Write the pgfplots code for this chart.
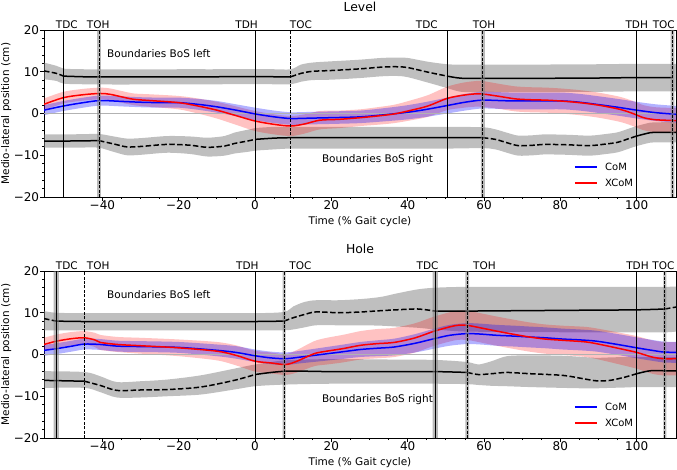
\documentclass[border=0pt]{standalone}
\usepackage{fontspec}
\setmainfont{DejaVu Sans}
\usepackage{pgfplots}
\usepackage{pgfplotstable}
\pgfplotsset{compat=1.18}
\usepgfplotslibrary{fillbetween}

% ---------------- Level ----------------
\pgfplotstableread{
x y lo hi
-55.3 10.2 8.2 12.2
-52.0 9.6 7.8 11.4
-50.2 8.95 7.15 10.75
-45 8.8 7.0 10.6
-40 8.75 6.95 10.55
-30 8.75 6.95 10.55
-20 8.8 7.0 10.6
-10 8.8 7.0 10.6
0 8.85 7.05 10.65
5 8.8 7.0 10.6
9.4 8.8 7.0 10.6
12 9.6 7.6 11.7
15 10.1 8.0 12.2
20 10.3 8.1 12.5
27.6 10.7 8.5 12.9
33 11.1 8.9 13.3
37 11.2 9.0 13.4
40 11.0 8.7 13.3
45.3 9.9 7.4 12.4
50.3 8.96 6.1 11.8
54 8.45 5.2 11.7
60 8.4 5.1 11.7
70 8.4 5.1 11.7
80 8.45 5.15 11.75
90 8.5 5.2 11.8
100 8.6 5.3 11.9
109.4 8.6 5.3 11.9
110.5 8.6 5.3 11.9
}\LevLeft
\pgfplotstableread{
x y lo hi
-55.3 -6.6 -8.2 -5.0
-50 -6.6 -8.2 -5.0
-45 -6.55 -8.15 -4.95
-40.9 -6.5 -8.2 -4.9
-37 -7.3 -9.2 -5.5
-33.6 -8.0 -10.0 -6.0
-30 -7.9 -9.9 -5.9
-23 -7.4 -9.4 -5.4
-17 -7.6 -9.7 -5.5
-12.5 -8.1 -10.3 -5.8
-8 -7.8 -10.1 -5.4
-5.5 -7.2 -9.6 -4.6
-2 -6.6 -9.2 -3.9
0 -6.2 -8.9 -3.5
5 -5.9 -8.6 -3.2
9.4 -5.8 -8.4 -3.2
20 -5.8 -8.4 -3.2
30 -5.8 -8.4 -3.2
40 -5.8 -8.4 -3.2
50.3 -5.8 -8.4 -3.2
59.7 -5.8 -8.3 -3.3
63 -6.2 -8.6 -3.8
66 -7.0 -9.4 -4.6
69 -7.7 -10.1 -5.3
73 -7.6 -10.0 -5.2
76 -7.4 -9.8 -5.0
82 -7.5 -9.9 -5.1
87.7 -7.7 -10.1 -5.3
92 -7.3 -9.7 -4.9
95 -6.9 -9.3 -4.5
98 -6.0 -8.4 -3.6
100 -5.4 -7.8 -3.0
103.5 -4.6 -7.0 -2.2
106 -4.5 -6.9 -2.1
110.5 -4.5 -6.9 -2.1
}\LevRight
\pgfplotstableread{
x y lo hi
-55.3 0.8 -0.4 2.0
-50.2 1.8 0.6 3.0
-45 2.6 1.4 3.8
-40.6 3.1 1.9 4.3
-35 2.9 1.7 4.1
-30 2.7 1.5 3.9
-25 2.6 1.4 3.8
-20 2.6 1.4 3.8
-15 2.2 0.9 3.5
-10 1.6 0.2 3.0
-5 0.8 -0.6 2.2
0 -0.1 -1.6 1.4
5 -0.8 -2.3 0.7
9.4 -1.2 -2.7 0.3
15 -1.1 -2.6 0.4
20 -1.0 -2.5 0.5
27.6 -0.8 -2.3 0.7
35 -0.2 -1.8 1.4
40 0.3 -1.4 2.0
45 1.0 -0.8 2.8
50.3 1.9 0.0 3.8
55 2.7 0.7 4.7
59.4 3.2 1.2 5.2
64 3.1 1.1 5.1
68 3.0 1.0 5.0
75 3.0 1.0 5.0
80.6 3.0 1.0 5.0
85 2.7 0.7 4.7
89.4 2.2 0.2 4.2
95 1.5 -0.5 3.5
100 0.8 -1.2 2.8
105 0.2 -1.8 2.2
110.5 -0.2 -2.2 1.8
}\LevCoM
\pgfplotstableread{
x y lo hi
-55.3 2.2 0.8 3.6
-50.2 3.8 2.4 5.2
-45 4.5 3.1 5.9
-40.6 4.8 3.4 6.2
-38 4.6 3.2 6.0
-35 4.0 2.6 5.4
-31.8 3.4 2.0 4.8
-27.5 3.1 1.6 4.6
-20 2.6 1.0 4.2
-15 1.8 0.0 3.6
-10 0.8 -1.2 2.8
-5 -0.5 -2.7 1.7
0 -1.8 -4.2 0.6
5 -2.6 -5.0 -0.2
9.4 -3.0 -5.4 -0.6
13 -2.5 -4.8 -0.2
17 -1.6 -3.8 0.6
22 -1.4 -3.5 0.7
27.6 -1.0 -3.0 1.0
32 -0.6 -2.7 1.5
36.5 -0.1 -2.3 2.1
41 0.8 -1.6 3.2
45.3 1.8 -0.8 4.4
50.3 3.6 0.8 6.4
54 4.3 1.3 7.3
57 4.65 1.6 7.7
59.4 4.7 1.6 7.8
64 4.1 1.1 7.1
68.2 3.5 0.5 6.5
72 3.3 0.3 6.3
76.2 3.2 0.2 6.2
80 3.0 0.0 6.0
85 2.6 -0.4 5.6
90 2.0 -1.0 5.0
95.6 1.0 -2.0 4.0
99 0.0 -3.0 3.0
101.8 -1.0 -4.0 2.0
105 -1.5 -4.5 1.5
110.5 -1.7 -4.7 1.3
}\LevXCoM

% ---------------- Hole ----------------
\pgfplotstableread{
x y lo hi
-55.3 8.6 5.8 10.4
-52.1 8.0 5.8 10.0
-45 7.9 5.8 9.9
-30 7.9 5.8 9.9
-15 7.9 5.8 9.9
0 7.9 5.8 9.9
7.6 8.0 5.8 10.2
10 8.8 6.0 11.5
13 9.6 6.5 12.6
16 10.2 7.0 13.0
22 10.0 7.0 13.0
28 10.2 7.0 13.3
33 10.5 6.9 13.8
37 10.7 6.7 14.6
42.6 10.9 6.4 15.6
47.2 10.4 6.0 16.0
55 10.4 5.5 16.2
70 10.5 5.4 16.2
85 10.6 5.3 16.2
100 10.7 5.3 16.2
107.4 10.9 5.3 16.2
110.5 11.4 5.5 16.3
}\HolLeft
\pgfplotstableread{
x y lo hi
-55.3 -6.2 -8.0 -4.0
-44.7 -6.4 -8.0 -4.2
-40.6 -7.4 -9.0 -5.2
-36.2 -8.6 -10.3 -6.6
-30 -8.5 -10.3 -6.4
-23 -8.4 -10.0 -6.0
-14.3 -7.8 -9.6 -5.0
-5.5 -6.2 -8.4 -3.4
0 -4.8 -7.6 -2.4
8 -4.0 -7.2 -1.4
20 -4.1 -7.0 -1.1
35 -4.1 -7.0 -1.2
47.2 -4.1 -7.0 -1.3
55.6 -4.3 -7.1 -1.8
58.5 -4.8 -7.3 -2.4
62 -4.6 -7.5 -1.6
66 -4.3 -7.6 -0.4
72 -4.6 -7.8 -0.2
80.6 -5.0 -8.0 -0.3
86 -5.8 -8.1 -0.6
89.4 -6.3 -8.1 -0.8
93 -6.2 -8.0 -0.7
97 -5.4 -7.9 -0.6
100 -4.6 -7.8 -0.6
103.5 -3.9 -7.8 -0.6
107.4 -3.9 -7.8 -0.6
110.5 -3.9 -7.8 -0.6
}\HolRight
\pgfplotstableread{
x y lo hi
-55.3 1.0 -0.3 2.3
-52 1.4 0.1 2.7
-48 2.0 0.7 3.3
-44.7 2.5 1.2 3.8
-40.6 2.4 1.1 3.7
-36 2.0 0.7 3.3
-30 1.9 0.6 3.2
-20 1.7 0.4 3.0
-10 1.0 -0.4 2.4
-5 0.5 -1.0 2.0
0 -0.3 -1.8 1.2
4 -0.8 -2.3 0.7
8 -1.0 -2.5 0.5
12 -0.6 -2.1 0.9
17.3 0.0 -1.6 1.6
22.5 0.6 -1.1 2.3
27.6 1.2 -0.6 3.0
32 1.5 -0.4 3.4
36.5 1.8 -0.2 3.8
42 2.7 0.5 4.9
47 3.8 1.4 6.2
51 4.6 2.1 7.1
55.4 5.0 2.5 7.5
59 4.9 2.4 7.4
63.3 4.6 2.1 7.1
68 4.4 1.9 6.9
71.8 4.2 1.7 6.7
76 4.0 1.5 6.5
80.6 3.7 1.2 6.2
85 3.5 1.0 6.0
89.4 3.2 0.7 5.7
95 2.4 -0.1 4.9
100 1.6 -0.9 4.1
104 1.0 -1.5 3.5
107 0.6 -1.9 3.1
110.5 0.5 -2.0 3.0
}\HolCoM
\pgfplotstableread{
x y lo hi
-55.3 2.4 0.8 4.0
-52 3.2 1.6 4.8
-48 3.8 2.2 5.4
-44.7 4.0 2.4 5.6
-42 3.5 1.8 5.2
-40.6 2.9 1.1 4.7
-36 2.4 0.6 4.2
-30 2.1 0.2 4.0
-20 1.6 -0.4 3.6
-10 0.8 -1.4 3.0
-5 -0.2 -2.6 2.2
0 -1.6 -4.1 0.9
4 -2.0 -4.5 0.5
8 -2.4 -4.9 0.1
11 -1.6 -4.3 1.1
15.5 0.2 -2.8 3.2
18.8 0.8 -2.4 4.0
23 1.4 -1.9 4.7
27.6 2.2 -1.2 5.6
32 2.6 -0.9 6.1
36.5 2.9 -0.6 6.4
42 4.0 0.5 7.5
47 5.6 2.1 9.1
52.4 6.9 3.4 10.4
55.4 7.0 3.5 10.5
59 6.4 2.9 9.9
63.3 5.6 2.1 9.1
68 4.8 1.3 8.3
71.8 4.2 0.7 7.7
76 3.7 0.2 7.2
80.6 3.4 -0.1 6.9
86.8 3.0 -0.6 6.6
91 2.3 -1.4 6.0
95.6 1.4 -2.4 5.2
100 0.5 -3.4 4.4
104 -0.6 -4.6 3.4
107 -1.0 -5.0 3.0
110.5 -1.0 -5.0 3.0
}\HolXCoM

\definecolor{mplblue}{RGB}{0,0,255}
\definecolor{mplred}{RGB}{255,0,0}
\tikzset{bosdash/.style={dash pattern=on 5.5pt off 2.4pt},
         evdash/.style={dash pattern=on 3pt off 1.4pt}}

\newcommand{\evfont}{\fontsize{10.5}{12}\selectfont}

\pgfplotsset{panel/.style={
  scale only axis, width=632pt, height=167pt,
  xmin=-55.3, xmax=110.3, ymin=-20, ymax=20,
  xtick={-40,-20,0,20,40,60,80,100},
  xticklabels={−40,−20,0,20,40,60,80,100},
  ytick={-20,-10,0,10,20},
  yticklabels={−20,−10,0,10,20},
  minor x tick num=3, minor y tick num=4,
  tick pos=left, tick align=outside,
  major tick length=4pt, minor tick length=2pt,
  tick style={black, line width=0.8pt},
  axis line style={line width=0.8pt},
  xticklabel style={font=\fontsize{12}{14}\selectfont, anchor=base, inner sep=0pt, yshift=-8.8pt},
  yticklabel style={font=\fontsize{12}{14}\selectfont, anchor=east, inner sep=0pt, xshift=-0.7pt},
  xlabel={Time (\% Gait cycle)},
  ylabel={Medio-lateral position (cm)},
  xlabel style={font=\fontsize{10.5}{12}\selectfont, at={(axis description cs:0.5,-0.165)}, anchor=base, inner sep=0pt},
  ylabel style={font=\fontsize{10.5}{12}\selectfont, at={(axis description cs:-0.0598,0.5)}, anchor=center, inner sep=0pt},
  clip mode=individual,
}}

\newcommand{\band}[4]{%
  \addplot[name path=#4hi, draw=none, smooth, forget plot] table[x=x,y=hi]{#1};
  \addplot[name path=#4lo, draw=none, smooth, forget plot] table[x=x,y=lo]{#1};
  \addplot[fill=#2, fill opacity=#3, draw=none, forget plot] fill between[of=#4hi and #4lo];
}
\newcommand{\seg}[4]{%
  \addplot[black, line width=1.5pt, smooth, forget plot, #4, restrict x to domain=#2:#3] table[x=x,y=y]{#1};
}
\newcommand{\evline}[2]{%
  \addplot[black, line width=0.9pt, forget plot, #2] coordinates {(#1,-20) (#1,20)};
}
\newcommand{\evband}[2]{%
  \addplot[draw=none, fill=gray, fill opacity=0.55, forget plot] coordinates {(#1,-20) (#2,-20) (#2,20) (#1,20) (#1,-20)};
}
\newcommand{\evlab}[2]{%
  \node[anchor=base, font=\evfont, inner sep=0pt, yshift=1.7pt] at (axis cs:#1,20) {#2};
}
% legend keys: #1 CoM key y, #2 XCoM key y, #3 CoM text baseline, #4 XCoM text baseline
\newcommand{\legendkeys}[4]{%
  \addplot[mplblue, line width=2pt, forget plot] coordinates {(83.8,#1) (89.6,#1)};
  \addplot[mplred, line width=2pt, forget plot] coordinates {(83.8,#2) (89.6,#2)};
  \node[anchor=base west, font=\fontsize{10}{12}\selectfont, inner sep=0pt] at (axis cs:91.7,#3) {CoM};
  \node[anchor=base west, font=\fontsize{10}{12}\selectfont, inner sep=0pt] at (axis cs:91.7,#4) {XCoM};
}

\begin{document}
\begin{tikzpicture}
\path (0,0) rectangle (677pt,469pt);

% ============ Level ============
\begin{axis}[panel, at={(44pt,272pt)}, anchor=south west]
\addplot[gray!60, line width=0.7pt, forget plot] coordinates {(-60,0) (115,0)};
\band{\LevLeft}{gray}{0.5}{la}
\band{\LevRight}{gray}{0.5}{lb}
\band{\LevXCoM}{mplred}{0.24}{lc}
\band{\LevCoM}{mplblue}{0.3}{ld}
\seg{\LevLeft}{-55.3}{-50.2}{bosdash}
\seg{\LevLeft}{-50.2}{9.4}{solid}
\seg{\LevLeft}{9.4}{50.3}{bosdash}
\seg{\LevLeft}{50.3}{109.4}{solid}
\seg{\LevRight}{-55.3}{-40.9}{solid}
\seg{\LevRight}{-40.9}{0}{bosdash}
\seg{\LevRight}{0}{59.7}{solid}
\seg{\LevRight}{59.7}{100}{bosdash}
\seg{\LevRight}{100}{110.5}{solid}
\addplot[mplblue, line width=1.5pt, smooth, forget plot] table[x=x,y=y]{\LevCoM};
\addplot[mplred, line width=1.5pt, smooth, forget plot] table[x=x,y=y]{\LevXCoM};
\evband{-41.4}{-40.4}
\evband{59.2}{60.2}
\evband{108.9}{109.9}
\evline{-50.2}{solid}
\evline{-40.9}{evdash}
\evline{0}{solid}
\evline{9.4}{evdash}
\evline{50.3}{solid}
\evline{59.7}{evdash}
\evline{100}{solid}
\evline{109.4}{evdash}
\legendkeys{-12.814}{-16.647}{-13.68}{-17.52}
\evlab{-49.3}{TDC}
\evlab{-41.1}{TOH}
\evlab{-2.2}{TDH}
\evlab{12}{TOC}
\evlab{45}{TDC}
\evlab{60}{TOH}
\evlab{100}{TDH}
\evlab{107.1}{TOC}
\node[anchor=base, font=\fontsize{12.4}{14}\selectfont, inner sep=0pt, yshift=18.3pt] at (rel axis cs:0.5,1) {Level};
\node[anchor=base west, font=\evfont, inner sep=0pt] at (axis cs:-38.8,13.5) {Boundaries BoS left};
\node[anchor=base west, font=\evfont, inner sep=0pt] at (axis cs:17.5,-11.7) {Boundaries BoS right};
\end{axis}

% ============ Hole ============
\begin{axis}[panel, at={(44pt,31pt)}, anchor=south west]
\addplot[gray!60, line width=0.7pt, forget plot] coordinates {(-60,0) (115,0)};
\band{\HolLeft}{gray}{0.5}{ha}
\band{\HolRight}{gray}{0.5}{hb}
\band{\HolXCoM}{mplred}{0.24}{hc}
\band{\HolCoM}{mplblue}{0.3}{hd}
\seg{\HolLeft}{-55.3}{-52.1}{bosdash}
\seg{\HolLeft}{-52.1}{7.6}{solid}
\seg{\HolLeft}{7.6}{47.2}{bosdash}
\seg{\HolLeft}{47.2}{107.4}{solid}
\seg{\HolLeft}{107.4}{110.5}{bosdash}
\seg{\HolRight}{-55.3}{-44.7}{solid}
\seg{\HolRight}{-44.7}{0}{bosdash}
\seg{\HolRight}{0}{55.6}{solid}
\seg{\HolRight}{55.6}{100}{bosdash}
\seg{\HolRight}{100}{110.5}{solid}
\addplot[mplblue, line width=1.5pt, smooth, forget plot] table[x=x,y=y]{\HolCoM};
\addplot[mplred, line width=1.5pt, smooth, forget plot] table[x=x,y=y]{\HolXCoM};
\evband{-52.8}{-51.4}
\evband{7.2}{8.0}
\evband{46.5}{47.9}
\evband{55.1}{56.1}
\evband{107.0}{107.8}
\evline{-52.1}{solid}
\evline{-44.7}{evdash}
\evline{0}{solid}
\evline{7.6}{evdash}
\evline{47.2}{solid}
\evline{55.6}{evdash}
\evline{100}{solid}
\evline{107.4}{evdash}
\legendkeys{-12.575}{-16.407}{-13.45}{-17.28}
\evlab{-49.3}{TDC}
\evlab{-41.1}{TOH}
\evlab{-2.0}{TDH}
\evlab{11.9}{TOC}
\evlab{45.2}{TDC}
\evlab{60.1}{TOH}
\evlab{100.2}{TDH}
\evlab{107}{TOC}
\node[anchor=base, font=\fontsize{12.4}{14}\selectfont, inner sep=0pt, yshift=17.7pt] at (rel axis cs:0.5,1) {Hole};
\node[anchor=base west, font=\evfont, inner sep=0pt] at (axis cs:-38.8,13.4) {Boundaries BoS left};
\node[anchor=base west, font=\evfont, inner sep=0pt] at (axis cs:17.5,-11.6) {Boundaries BoS right};
\end{axis}
\end{tikzpicture}
\end{document}
